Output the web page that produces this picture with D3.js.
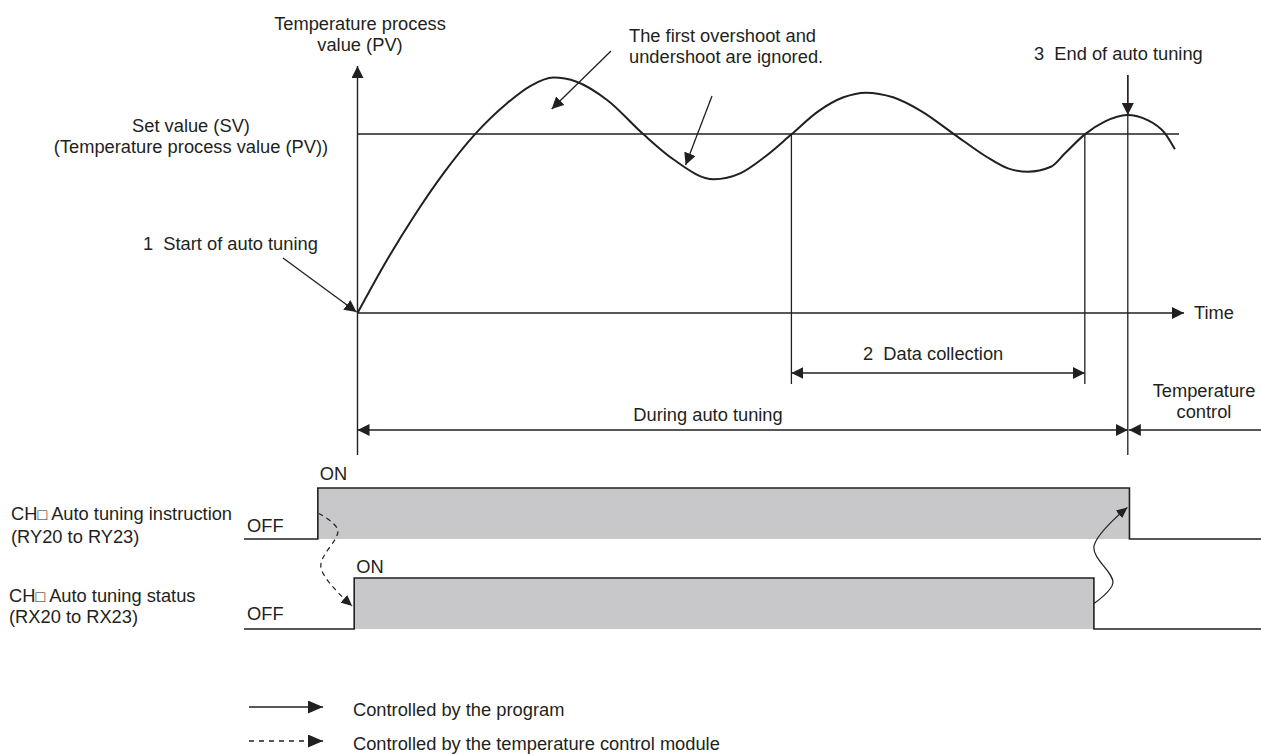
<!DOCTYPE html>
<html>
<head>
<meta charset="utf-8">
<script src="https://cdn.jsdelivr.net/npm/d3@7"></script>
<style>
  html, body { margin: 0; padding: 0; background: #fff; }
  svg { display: block; }
  text { font-family: "Liberation Sans", Arial, Helvetica, sans-serif; font-size: 18.3px; fill: #231f20; white-space: pre; }
</style>
</head>
<body>
<svg id="chart" width="1261" height="754"></svg>
<script>
// ---------- DATA ----------
// PV curve: time (arbitrary units, 0 = start of auto tuning), PV in % of SV
const pvTime  = [0, 3.1, 6.8, 10.4, 14.2, 18.1, 20.9, 23.7, 26.5, 30.2, 34.6, 38.2, 43.1, 46.3, 49.3, 52.5, 55.7, 58.8, 61.5, 64.8, 68.3, 72.2, 76.1, 78.7, 81.1, 83.9, 85.6, 88.0, 90.4, 93.1, 95.6, 97.7, 98.9];
const pvValue = [0, 25.9, 53.8, 78.0, 99.8, 117.2, 126.8, 131.5, 129.2, 119.0, 99.8, 85.9, 74.7, 78.0, 87.3, 99.8, 112.5, 120.5, 123.1, 120.5, 112.5, 99.8, 87.3, 80.8, 78.9, 81.7, 89.2, 99.8, 106.9, 110.6, 107.8, 100.4, 91.5];
const setValue = 100;

// event times
const eventNames = ["start", "dataStart", "dataEnd", "tuningEnd"];
const eventTimes = [0, 52.5, 88.0, 93.2];

// signals: [on time, off time]
const signalNames  = ["CH\u25A1 Auto tuning instruction", "CH\u25A1 Auto tuning status"];
const signalSub    = ["(RY20 to RY23)", "(RX20 to RX23)"];
const signalOn     = [-4.8, -0.4];
const signalOff    = [93.4, 89.1];

// labels
const axisTitleLines = ["Temperature process", "value (PV)"];
const svLabelLines   = ["Set value (SV)", "(Temperature process value (PV))"];
const noteLines      = ["The first overshoot and", "undershoot are ignored."];
const legendLabels   = ["Controlled by the program", "Controlled by the temperature control module"];

// ---------- LAYOUT ----------
const svg = d3.select("#chart");
const W = 1261;
const x = d3.scaleLinear().domain([0, 100]).range([357.5, 1184]);
const y = d3.scaleLinear().domain([0, 100]).range([313, 134]);
const yInstr = d3.scaleLinear().domain([0, 1]).range([539, 488]);
const yStat  = d3.scaleLinear().domain([0, 1]).range([629, 578]);
const ink = "#231f20";
const ev = {}; eventNames.forEach((n, i) => ev[n] = eventTimes[i]);

// arrow markers
const defs = svg.append("defs");
function marker(id, len, wid) {
  defs.append("marker").attr("id", id)
    .attr("viewBox", `0 0 ${len} ${wid}`).attr("refX", len).attr("refY", wid / 2)
    .attr("markerWidth", len).attr("markerHeight", wid)
    .attr("markerUnits", "userSpaceOnUse").attr("orient", "auto-start-reverse")
    .append("path").attr("d", `M0,0L${len},${wid / 2}L0,${wid}Z`).attr("fill", ink);
}
marker("arr", 12, 12);
marker("arrS", 11, 10);
marker("arrL", 15, 13);

const g = svg.append("g");

// y axis
g.append("line").attr("x1", x(0)).attr("x2", x(0)).attr("y1", 455).attr("y2", 66)
  .attr("stroke", ink).attr("stroke-width", 1.4).attr("marker-end", "url(#arr)");
// time axis
g.append("line").attr("x1", x(0)).attr("x2", x(100)).attr("y1", y(0)).attr("y2", y(0))
  .attr("stroke", ink).attr("stroke-width", 1.4).attr("marker-end", "url(#arr)");
// SV line
g.append("line").attr("x1", x(0)).attr("x2", 1179).attr("y1", y(setValue)).attr("y2", y(setValue))
  .attr("stroke", ink).attr("stroke-width", 1.3);

// event vertical lines
g.append("line").attr("x1", x(ev.dataStart)).attr("x2", x(ev.dataStart)).attr("y1", y(setValue)).attr("y2", 384)
  .attr("stroke", ink).attr("stroke-width", 1.3);
g.append("line").attr("x1", x(ev.dataEnd)).attr("x2", x(ev.dataEnd)).attr("y1", y(setValue)).attr("y2", 384)
  .attr("stroke", ink).attr("stroke-width", 1.3);
g.append("line").attr("x1", x(ev.tuningEnd)).attr("x2", x(ev.tuningEnd)).attr("y1", 75).attr("y2", 455)
  .attr("stroke", ink).attr("stroke-width", 1.3);
// end-of-tuning arrow
g.append("line").attr("x1", x(ev.tuningEnd)).attr("x2", x(ev.tuningEnd)).attr("y1", 75).attr("y2", 115)
  .attr("stroke", ink).attr("stroke-width", 1.3).attr("marker-end", "url(#arr)");

// PV curve
const pts = pvTime.map((t, i) => [x(t), y(pvValue[i])]);
g.append("path").attr("d", d3.line().curve(d3.curveMonotoneX)(pts))
  .attr("fill", "none").attr("stroke", ink).attr("stroke-width", 2);

// data collection double arrow
g.append("line").attr("x1", x(ev.dataStart)).attr("x2", x(ev.dataEnd)).attr("y1", 373).attr("y2", 373)
  .attr("stroke", ink).attr("stroke-width", 1.3)
  .attr("marker-start", "url(#arr)").attr("marker-end", "url(#arr)");
// during auto tuning double arrow
g.append("line").attr("x1", x(ev.start)).attr("x2", x(ev.tuningEnd)).attr("y1", 430).attr("y2", 430)
  .attr("stroke", ink).attr("stroke-width", 1.3)
  .attr("marker-start", "url(#arr)").attr("marker-end", "url(#arr)");
// temperature control arrow
g.append("line").attr("x1", W).attr("x2", x(ev.tuningEnd) + 1).attr("y1", 430).attr("y2", 430)
  .attr("stroke", ink).attr("stroke-width", 1.3).attr("marker-end", "url(#arr)");

// annotation arrows
g.append("line").attr("x1", 283).attr("y1", 258).attr("x2", x(0) - 1).attr("y2", y(0) - 1)
  .attr("stroke", ink).attr("stroke-width", 1.3).attr("marker-end", "url(#arr)");
g.append("line").attr("x1", 611).attr("y1", 51).attr("x2", x(23.5)).attr("y2", 109)
  .attr("stroke", ink).attr("stroke-width", 1.3).attr("marker-end", "url(#arr)");
g.append("line").attr("x1", 712).attr("y1", 96).attr("x2", x(39.7)).attr("y2", 165)
  .attr("stroke", ink).attr("stroke-width", 1.3).attr("marker-end", "url(#arr)");

// ---------- TIMING SIGNALS ----------
const scales = [yInstr, yStat];
signalOn.forEach((on, i) => {
  const ys = scales[i];
  const off = signalOff[i];
  g.append("rect").attr("x", x(on)).attr("y", ys(1)).attr("width", x(off) - x(on)).attr("height", ys(0) - ys(1))
    .attr("fill", "#c8c8ca");
  const wave = [[244, ys(0)], [x(on), ys(0)], [x(on), ys(1)], [x(off), ys(1)], [x(off), ys(0)], [W, ys(0)]];
  g.append("path").attr("d", d3.line()(wave)).attr("fill", "none").attr("stroke", ink).attr("stroke-width", 1.6);
  g.append("text").attr("x", x(on) + 2).attr("y", ys(1) - (i === 0 ? 8 : 5)).text("ON");
  g.append("text").attr("x", 247).attr("y", ys(0) - (i === 0 ? 7 : 9)).text("OFF");
  const t = g.append("text").attr("x", i === 0 ? 11 : 9).attr("y", ys(0) - (i === 0 ? 19 : 27));
  const nm = signalNames[i].split("\u25A1");
  t.append("tspan").text(nm[0]);
  t.append("tspan").attr("font-size", "16px").text("\u25A1");
  t.append("tspan").text(nm[1]);
  g.append("text").attr("x", i === 0 ? 11 : 9).attr("y", ys(0) + (i === 0 ? 4 : -6)).text(signalSub[i]);
});

// dashed connector: instruction ON -> status ON
const dashPts = [[x(signalOn[0]) + 1, yInstr(0.5)], [x(signalOn[0]) + 20, 530], [x(signalOn[0]) + 3, 567], [x(signalOn[1]) - 2, yStat(0.45)]];
g.append("path").attr("d", d3.line().curve(d3.curveCatmullRom.alpha(0.5))(dashPts))
  .attr("fill", "none").attr("stroke", ink).attr("stroke-width", 1.2).attr("stroke-dasharray", "5,4")
  .attr("marker-end", "url(#arrS)");
// solid connector: status OFF -> instruction OFF
const solPts = [[x(signalOff[1]), yStat(0.5)], [x(signalOff[1]) + 19, 583], [x(signalOff[1]), 547], [x(signalOff[0]) - 2, yInstr(0.62)]];
g.append("path").attr("d", d3.line().curve(d3.curveCatmullRom.alpha(0.5))(solPts))
  .attr("fill", "none").attr("stroke", ink).attr("stroke-width", 1.2)
  .attr("marker-end", "url(#arrS)");

// ---------- TEXT ----------
axisTitleLines.forEach((s, i) => g.append("text").attr("x", 360).attr("y", 30 + i * 21).attr("text-anchor", "middle").text(s));
svLabelLines.forEach((s, i) => g.append("text").attr("x", 191).attr("y", 132 + i * 21).attr("text-anchor", "middle").text(s));
noteLines.forEach((s, i) => g.append("text").attr("x", 629).attr("y", 42 + i * 21).text(s));
g.append("text").attr("x", 143).attr("y", 250).text("1  Start of auto tuning");
g.append("text").attr("x", 1034).attr("y", 60).text("3  End of auto tuning");
g.append("text").attr("x", 1194).attr("y", 319).text("Time");
g.append("text").attr("x", (x(ev.dataStart) + x(ev.dataEnd)) / 2 - 5).attr("y", 360).attr("text-anchor", "middle").text("2  Data collection");
g.append("text").attr("x", 708).attr("y", 421).attr("text-anchor", "middle").text("During auto tuning");
g.append("text").attr("x", 1204).attr("y", 397).attr("text-anchor", "middle").text("Temperature");
g.append("text").attr("x", 1204).attr("y", 418).attr("text-anchor", "middle").text("control");

// ---------- LEGEND ----------
legendLabels.forEach((s, i) => {
  const ly = 707 + i * 34;
  g.append("line").attr("x1", 249).attr("x2", 323).attr("y1", ly).attr("y2", ly)
    .attr("stroke", ink).attr("stroke-width", 1.4)
    .attr("stroke-dasharray", i === 1 ? "5,5" : null)
    .attr("marker-end", "url(#arrL)");
  g.append("text").attr("x", 353).attr("y", ly + 9).text(s);
});
</script>
</body>
</html>
